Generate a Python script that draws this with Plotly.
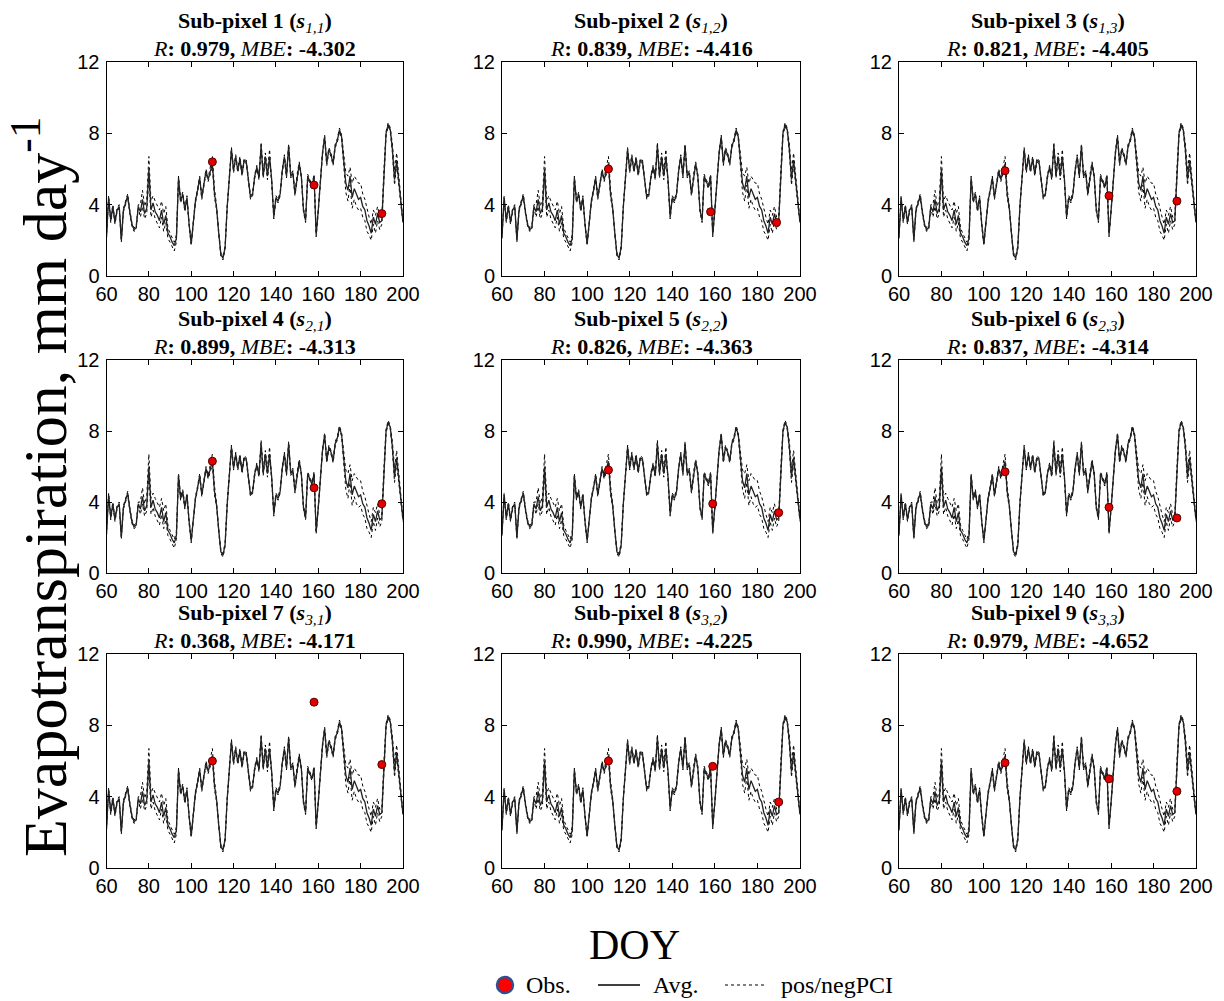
import plotly.graph_objects as go

W, H = 1224, 1001

doy = list(range(60, 201))

avg_et = [
    2.2, 4.4, 3.1, 3.9, 3.0, 3.7, 3.9, 2.0, 3.7, 4.1,   # 60-69
    4.5, 3.6, 2.9, 2.6, 2.7, 3.9, 3.6, 4.3, 3.5, 3.8,   # 70-79
    6.0, 3.7, 4.1, 3.6, 3.4, 3.1, 3.7, 2.9, 3.4, 2.4,   # 80-89
    2.2, 1.9, 1.7, 2.1, 5.5, 4.2, 4.6, 3.7, 4.4, 2.9,   # 90-99
    1.8, 3.0, 4.2, 4.8, 5.5, 4.4, 5.2, 5.9, 5.4, 5.9,   # 100-109
    6.3, 4.6, 3.8, 2.4, 1.2, 1.0, 1.6, 3.9, 5.4, 7.1,   # 110-119
    5.9, 6.7, 5.9, 6.6, 5.7, 6.5, 6.4, 5.4, 4.4, 4.6,   # 120-129
    5.6, 6.1, 5.5, 7.3, 5.6, 6.7, 5.6, 6.7, 5.4, 3.3,   # 130-139
    4.4, 4.2, 4.6, 5.9, 6.7, 5.6, 7.3, 5.6, 5.8, 4.6,   # 140-149
    5.6, 6.3, 5.6, 3.7, 3.1, 5.6, 5.3, 5.0, 5.6, 2.3,   # 150-159
    3.7, 5.4, 6.9, 7.8, 6.3, 7.1, 6.8, 6.3, 7.3, 7.6,   # 160-169
    8.2, 7.8, 6.5, 5.2, 4.8, 5.6, 4.4, 4.9, 4.6, 4.3,   # 170-179
    4.4, 3.9, 3.7, 3.1, 2.8, 2.4, 3.3, 2.9, 3.5, 3.0,   # 180-189
    3.1, 5.9, 8.0, 8.5, 8.2, 7.1, 5.4, 6.5, 5.2, 4.1,   # 190-199
    3.0,                                                # 200
]

# distance of the positive / negative PCI from the average, read per day
pci_up = ([0.1] * 16
          + [0.4, 0.5, 0.4, 0.5, 0.7, 0.5, 0.4, 0.6, 0.5, 0.6, 0.5, 0.6, 0.5, 0.3, 0.2, 0.2, 0.2, 0.2]
          + [0.1] * 15
          + [0.3, 0.4, 0.3]
          + [0.1] * 21
          + [0.2, 0.2, 0.2, 0.3, 0.4]
          + [0.1] * 34
          + [0.3, 0.6, 0.8, 0.5, 0.8, 0.7, 0.8, 0.9, 0.8, 0.7, 0.6, 0.6, 0.5, 0.5, 0.4, 0.5, 0.4, 0.3, 0.2]
          + [0.1] * 4
          + [0.3, 0.5, 0.4, 0.3, 0.2, 0.1])
pci_dn = ([0.1] * 16
          + [0.3, 0.4, 0.3, 0.3, 0.4, 0.4, 0.4, 0.4, 0.5, 0.4, 0.4, 0.4, 0.4, 0.3, 0.3, 0.3, 0.3, 0.2]
          + [0.1] * 15
          + [0.2, 0.2, 0.2]
          + [0.1] * 21
          + [0.1, 0.1, 0.2, 0.2, 0.2]
          + [0.1] * 34
          + [0.3, 0.5, 0.6, 0.5, 0.6, 0.6, 0.7, 0.6, 0.6, 0.6, 0.6, 0.6, 0.5, 0.4, 0.4, 0.5, 0.4, 0.4, 0.2]
          + [0.1] * 4
          + [0.2, 0.3, 0.3, 0.2, 0.2, 0.1])

pos_pci = [a + u for a, u in zip(avg_et, pci_up)]
neg_pci = [a - d for a, d in zip(avg_et, pci_dn)]

panel_ids = ["1,1", "1,2", "1,3", "2,1", "2,2", "2,3", "3,1", "3,2", "3,3"]
r_values = [0.979, 0.839, 0.821, 0.899, 0.826, 0.837, 0.368, 0.990, 0.979]
mbe_values = [-4.302, -4.416, -4.405, -4.313, -4.363, -4.314, -4.171, -4.225, -4.652]

obs_doy = [
    [110, 158, 190],
    [110, 158, 189],
    [110, 159, 191],
    [110, 158, 190],
    [110, 159, 190],
    [110, 159, 191],
    [110, 158, 190],
    [110, 159, 190],
    [110, 159, 191],
]
obs_et = [
    [6.4, 5.1, 3.5],
    [6.0, 3.6, 3.0],
    [5.9, 4.5, 4.2],
    [6.3, 4.8, 3.9],
    [5.8, 3.9, 3.4],
    [5.7, 3.7, 3.1],
    [6.0, 9.3, 5.8],
    [6.0, 5.7, 3.7],
    [5.9, 5.0, 4.3],
]

x_ticks = [60, 80, 100, 120, 140, 160, 180, 200]
y_ticks = [0, 4, 8, 12]

legend_labels = ["Obs.", "Avg.", "pos/negPCI"]

# pixel layout of the panel frames
col_px = [(106.5, 403), (502, 800), (899, 1196)]
row_px = [(62, 276), (360, 573), (654, 868)]

SERIF = "Liberation Serif, Times New Roman, serif"
SANS = "Liberation Sans, Arial, sans-serif"

fig = go.Figure()
annotations = []
shapes = []

for i in range(9):
    r, c = divmod(i, 3)
    n = i + 1
    xa = "x" if n == 1 else f"x{n}"
    ya = "y" if n == 1 else f"y{n}"
    xkey = "xaxis" if n == 1 else f"xaxis{n}"
    ykey = "yaxis" if n == 1 else f"yaxis{n}"

    fig.add_trace(go.Scatter(x=doy, y=pos_pci, mode="lines", xaxis=xa, yaxis=ya,
                             line=dict(color="black", width=1, dash="dot"), showlegend=False,
                             hoverinfo="skip"))
    fig.add_trace(go.Scatter(x=doy, y=neg_pci, mode="lines", xaxis=xa, yaxis=ya,
                             line=dict(color="black", width=1, dash="dot"), showlegend=False,
                             hoverinfo="skip"))
    fig.add_trace(go.Scatter(x=doy, y=avg_et, mode="lines", xaxis=xa, yaxis=ya,
                             line=dict(color="#222222", width=1.3), showlegend=False))
    fig.add_trace(go.Scatter(x=obs_doy[i], y=obs_et[i], mode="markers", xaxis=xa, yaxis=ya,
                             marker=dict(color="#e00000", size=8,
                                         line=dict(color="#5a0000", width=1)),
                             showlegend=False))

    x0, x1 = col_px[c]
    y0, y1 = row_px[r]
    fig.layout[xkey] = dict(
        domain=[x0 / W, x1 / W], range=[60, 200], anchor=ya, automargin=False,
        tickmode="array", tickvals=x_ticks, ticks="inside", ticklen=5, tickcolor="black",
        showline=True, linecolor="black", linewidth=1, mirror="ticks",
        showgrid=False, zeroline=False,
        tickfont=dict(family=SANS, size=20, color="black"),
    )
    fig.layout[ykey] = dict(
        domain=[1 - y1 / H, 1 - y0 / H], range=[0, 12], anchor=xa, automargin=False,
        tickmode="array", tickvals=y_ticks, ticks="inside", ticklen=5, tickcolor="black",
        showline=True, linecolor="black", linewidth=1, mirror="ticks",
        showgrid=False, zeroline=False, ticklabelstandoff=2,
        tickfont=dict(family=SANS, size=20, color="black"),
    )

    a, b = panel_ids[i].split(",")
    line1 = f"<b>Sub-pixel {n} (<i>s</i></b><sub><i>{a},{b}</i></sub><b>)</b>"
    line2 = f"<i>R</i><b>: {r_values[i]:.3f}, </b><i>MBE</i><b>: {mbe_values[i]:.3f}</b>"
    for txt, dy in ((line1, 40), (line2, 14)):
        annotations.append(dict(
            text=txt, xref="paper", yref="paper",
            x=(x0 + x1) / 2 / W, y=1 - (y0 - dy) / H, xanchor="center", yanchor="middle",
            showarrow=False, align="center",
            font=dict(family=SERIF, size=22, color="black"),
        ))

annotations.append(dict(
    text="Evapotranspiration, mm day<sup>-1</sup>", xref="paper", yref="paper",
    x=40 / W, y=1 - 487 / H, xanchor="center", yanchor="middle", textangle=-90,
    showarrow=False, font=dict(family=SERIF, size=62, color="black"),
))
annotations.append(dict(
    text="DOY", xref="paper", yref="paper",
    x=634 / W, y=1 - 945 / H, xanchor="center", yanchor="middle",
    showarrow=False, font=dict(family=SERIF, size=42, color="black"),
))

# legend (drawn as shapes + text)
ly = 1 - 985 / H
shapes.append(dict(type="circle", xref="paper", yref="paper",
                   x0=497 / W, x1=513 / W, y0=ly - 8 / H, y1=ly + 8 / H,
                   fillcolor="#ff0000", line=dict(color="#2f4f8f", width=2.5)))
shapes.append(dict(type="line", xref="paper", yref="paper",
                   x0=598 / W, x1=640 / W, y0=ly, y1=ly,
                   line=dict(color="black", width=1.5)))
shapes.append(dict(type="line", xref="paper", yref="paper",
                   x0=725 / W, x1=766 / W, y0=ly, y1=ly,
                   line=dict(color="black", width=1, dash="dot")))
for lx, lab in zip([524, 651, 779], legend_labels):
    annotations.append(dict(
        text=lab, xref="paper", yref="paper", x=lx / W, y=ly,
        xanchor="left", yanchor="middle", showarrow=False,
        font=dict(family=SERIF, size=24, color="black"),
    ))

fig.update_layout(
    width=W, height=H,
    margin=dict(l=0, r=0, t=0, b=0),
    paper_bgcolor="white", plot_bgcolor="white",
    annotations=annotations,
    shapes=shapes,
    showlegend=False,
)

fig.write_html(
    "out.html",
    config={"displayModeBar": False},
    post_script="document.body.style.margin='0';document.body.style.overflow='hidden';",
)
